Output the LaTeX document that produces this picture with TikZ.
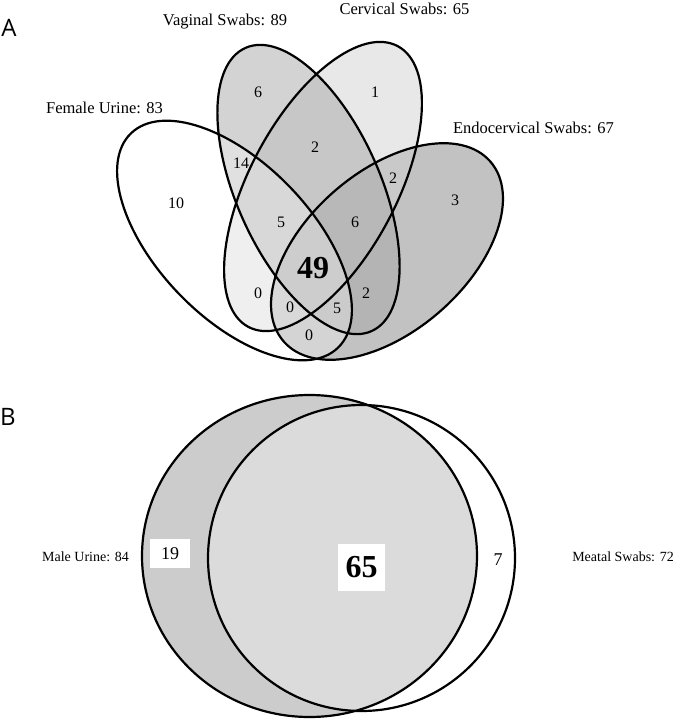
\documentclass[tikz,border=0pt]{standalone}
\usepackage{fontspec}
\setmainfont{Liberation Serif}
\newfontfamily\panelfont{Open Sans}
\definecolor{cE}{gray}{0.52}
\definecolor{cC}{gray}{0.82}
\definecolor{cV}{gray}{0.66}
\definecolor{cMU}{gray}{0.80}
\begin{document}
\begin{tikzpicture}[x=1pt,y=-1pt,
  outl/.style={draw=black,line width=2.2pt},
  setlbl/.style={font=\fontsize{16.5}{18}\selectfont, inner sep=0pt},
  cnt/.style={font=\fontsize{16}{18}\selectfont, inner sep=0pt},
  bigcnt/.style={font=\fontsize{32}{34}\selectfont\bfseries, inner sep=0pt},
  msetlbl/.style={font=\fontsize{14}{16}\selectfont, inner sep=0pt},
  panel/.style={font=\panelfont\fontsize{24}{26}\selectfont, inner sep=0pt}]
\useasboundingbox (0,0) rectangle (675,720);
% ---------- Panel A ----------
\fill[cE, fill opacity=0.5, rotate around={41:(387,251.5)}] (387,251.5) ellipse (137pt and 80pt);
\fill[cC, fill opacity=0.5, rotate around={62:(323,186.5)}] (323,186.5) ellipse (159pt and 73.5pt);
\fill[cV, fill opacity=0.5, rotate around={-66:(308.5,189.5)}] (308.5,189.5) ellipse (155pt and 72pt);
\fill[white, fill opacity=0.3, rotate around={-46:(234.5,240.5)}] (234.5,240.5) ellipse (149pt and 77pt);
\draw[outl, rotate around={41:(387,251.5)}] (387,251.5) ellipse (137pt and 80pt);
\draw[outl, rotate around={62:(323,186.5)}] (323,186.5) ellipse (159pt and 73.5pt);
\draw[outl, rotate around={-66:(308.5,189.5)}] (308.5,189.5) ellipse (155pt and 72pt);
\draw[outl, rotate around={-46:(234.5,240.5)}] (234.5,240.5) ellipse (149pt and 77pt);

\node[panel] (pA) at (9,28) {A};
\node[setlbl] (lVS) at (225,22) {Vaginal Swabs: 89};
\node[setlbl] (lCS) at (404.5,9) {Cervical Swabs: 65};
\node[setlbl] (lFU) at (104.5,108) {Female Urine: 83};
\node[setlbl] (lEC) at (533.5,128) {Endocervical Swabs: 67};

\node[cnt] (n6a) at (258,92) {6};
\node[cnt] (n1) at (375,92) {1};
\node[cnt] (n2a) at (315,147) {2};
\node[cnt] (n14) at (241,163) {14};
\node[cnt] (n10) at (176,203) {10};
\node[cnt] (n2b) at (393,178) {2};
\node[cnt] (n3) at (455,200) {3};
\node[cnt] (n5a) at (281,222) {5};
\node[cnt] (n6b) at (355,222) {6};
\node[bigcnt] (n49) at (313,268) {49};
\node[cnt] (n0a) at (258,293) {0};
\node[cnt] (n0b) at (290,307) {0};
\node[cnt] (n5b) at (337,308) {5};
\node[cnt] (n2c) at (366,293) {2};
\node[cnt] (n0c) at (309,335) {0};

% ---------- Panel B ----------
\fill[cMU] (309.5,556) ellipse (167.5pt and 161pt);
\fill[white, fill opacity=0.3] (361.5,558) ellipse (153.5pt and 153pt);
\draw[outl] (309.5,556) ellipse (167.5pt and 161pt);
\draw[outl] (361.5,558) ellipse (153.5pt and 153pt);

\node[panel] (pB) at (8,417) {B};
\node[msetlbl] (lMU) at (85.5,557) {Male Urine: 84};
\node[msetlbl] (lMS) at (623,557) {Meatal Swabs: 72};
\node[fill=white, minimum width=40pt, minimum height=29pt, inner sep=0pt,
      font=\fontsize{18}{20}\selectfont] (n19) at (170,553.5) {19};
\node[fill=white, minimum width=47pt, minimum height=47pt, inner sep=0pt,
      font=\fontsize{32}{34}\selectfont\bfseries] (n65) at (361.5,567.5) {65};
\node[font=\fontsize{18}{20}\selectfont, inner sep=0pt] (n7) at (498,560) {7};
\end{tikzpicture}
\end{document}
